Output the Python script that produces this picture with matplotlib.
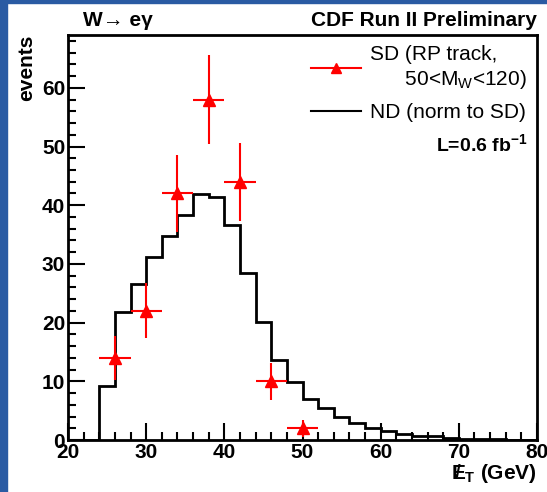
import matplotlib
matplotlib.use("Agg")
import matplotlib.pyplot as plt
from matplotlib.lines import Line2D
import numpy as np

plt.rcParams['font.family'] = ['Liberation Sans', 'DejaVu Sans']
plt.rcParams['mathtext.fontset'] = 'custom'
plt.rcParams['mathtext.rm'] = 'Liberation Sans'
plt.rcParams['mathtext.bf'] = 'Liberation Sans:bold'

# ND histogram (normalised to SD), 2 GeV bins from 20 to 80
nd_edges = np.arange(20, 82, 2)
nd_counts = [0, 0, 9.2, 21.8, 26.6, 31.1, 34.7, 38.4, 41.9, 41.4,
             36.6, 28.5, 20.1, 13.7, 9.8, 7.0, 5.4, 4.0, 2.9, 2.0,
             1.5, 1.0, 0.7, 0.6, 0.3, 0.2, 0.15, 0.1, 0.05, 0.05]

# SD points (RP track), 4 GeV bins
sd_x = [26, 30, 34, 38, 42, 46, 50]
sd_y = [14, 22, 42, 58, 44, 10, 2]
sd_xerr = [2] * len(sd_x)
sd_yerr = np.sqrt(sd_y)

fig = plt.figure(figsize=(5.47, 4.92), dpi=100)
fig.patch.set_facecolor('white')
# blue frame on left and top
fig.patches.append(plt.Rectangle((0, 0), 7 / 547, 1, transform=fig.transFigure,
                                 color='#2a5ba3', zorder=-1))
fig.patches.append(plt.Rectangle((0, 1 - 3 / 492), 1, 3 / 492, transform=fig.transFigure,
                                 color='#2a5ba3', zorder=-1))

ax = fig.add_axes([68 / 547, 52 / 492, 469 / 547, 405 / 492])

ax.stairs(nd_counts, nd_edges, color='black', lw=2)
ax.errorbar(sd_x, sd_y, xerr=sd_xerr, yerr=sd_yerr, fmt='^', color='red',
            ms=8, elinewidth=1.5, capsize=0)

ax.set_xlim(20, 80)
ax.set_ylim(0, 69)
ax.set_xticks(np.arange(20, 81, 10))
ax.set_xticks(np.arange(20, 81, 2), minor=True)
ax.set_yticks(np.arange(0, 61, 10))
ax.set_yticks(np.arange(0, 69, 2), minor=True)
ax.tick_params(which='both', direction='in', width=1.5, labelsize=15, top=False, right=False)
ax.tick_params(which='major', length=12, pad=2)
ax.tick_params(which='minor', length=6)
for lab in ax.get_xticklabels() + ax.get_yticklabels():
    lab.set_fontweight('bold')
for sp in ax.spines.values():
    sp.set_linewidth(2)

ax.set_xlabel(r'$\mathbf{\not\!\!E_T}$ (GeV)', fontsize=15, fontweight='bold',
              loc='right', labelpad=0)
ax.set_ylabel('events', fontsize=15, fontweight='bold', loc='top', labelpad=4)

sd_handle = Line2D([], [], color='red', lw=1.5, marker='^', ms=7)
nd_handle = Line2D([], [], color='black', lw=1.5)
ax.legend([sd_handle, nd_handle],
          ['SD (RP track,\n      50<M$_\\mathrm{W}$<120)', 'ND (norm to SD)'],
          loc='upper right', frameon=False, fontsize=15,
          handlelength=2.4, handletextpad=0.4, borderaxespad=0.1, labelspacing=0.6)

ax.text(0.98, 0.73, 'L=0.6 fb$^{\\mathbf{-1}}$', transform=ax.transAxes, ha='right',
        va='center', fontsize=14, fontweight='bold')

fig.text(83 / 547, 1 - 20 / 492, 'W\u2192 e\u03b3', fontsize=15,
         fontweight='bold', va='center')
fig.text(537 / 547, 1 - 20 / 492, 'CDF Run II Preliminary', fontsize=15,
         fontweight='bold', va='center', ha='right')

fig.savefig('out.png', dpi=100)
